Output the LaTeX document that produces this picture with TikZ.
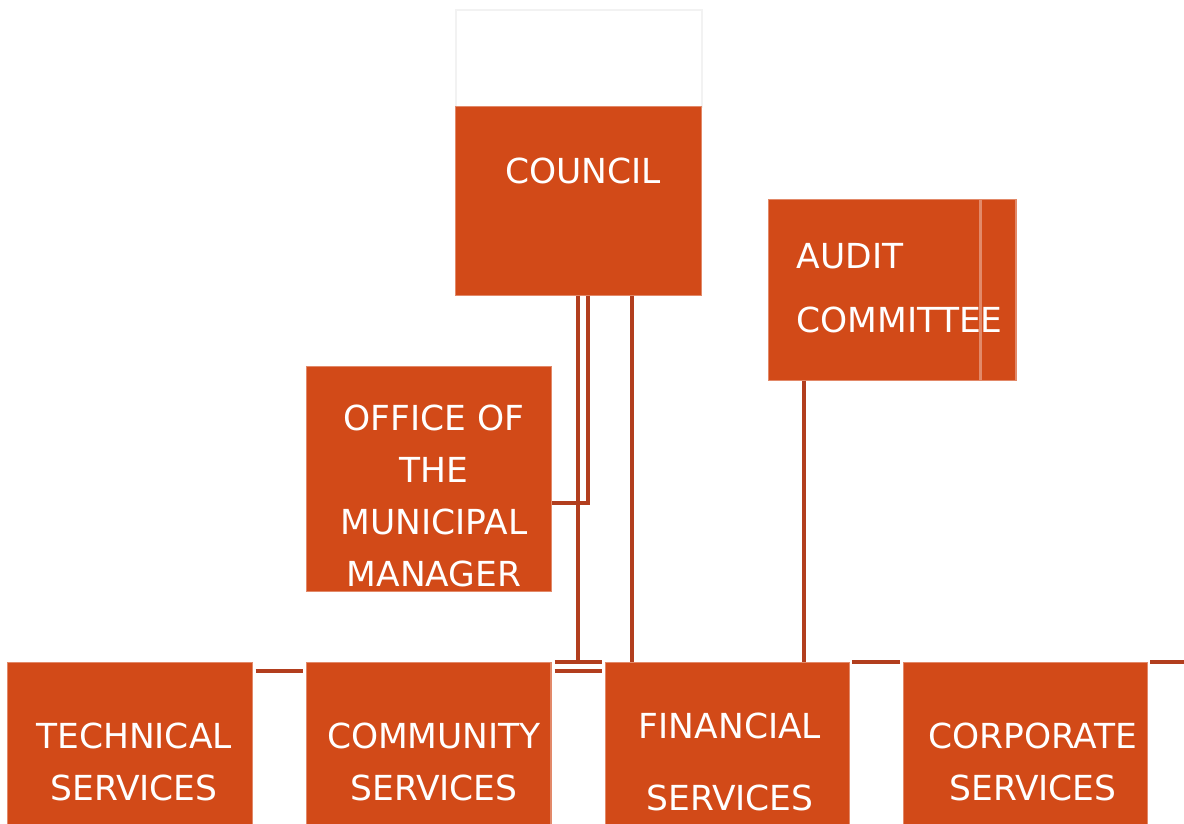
\documentclass[tikz,border=0pt]{standalone}
\usepackage{fontspec}
\setmainfont{DejaVu Sans}
\usetikzlibrary{positioning}
\definecolor{boxfill}{RGB}{210,74,24}
\definecolor{linkcol}{RGB}{178,62,30}
\tikzset{
  unit/.style={draw=boxfill!65!white, line width=0.3pt, fill=boxfill, inner sep=0pt,
    minimum width=2.44cm, minimum height=1.8cm},
  caption/.style={text=white, align=center, inner sep=0pt,
    font=\fontsize{9.8}{14.8}\selectfont},
  link/.style={draw=linkcol, line width=0.95pt}
}

\begin{document}
\begin{tikzpicture}[x=0.01cm, y=-0.01cm]
  \useasboundingbox (0,0) rectangle (1184,823);
  \clip (0,0) rectangle (1184,823);
  % top of the chart
  \node[draw=black!5, minimum width=2.46cm, minimum height=0.97cm] (blank) at (579,58.5) {};
  \node[unit, minimum width=2.45cm, minimum height=1.88cm] (council) at (578.5,201) {};
  \node[unit, minimum width=2.10cm] (audit) at (874,290) {};
  \node[unit, minimum width=0.35cm] (audit-side) at (998.5,290) {};
  \node[unit, minimum height=2.24cm] (omm) at (429,479) {};
  % departments
  \node[unit, anchor=north] (tech) at (130,662) {};
  \node[unit, right=0.537cm of tech] (comm) {};
  \node[unit, right=0.537cm of comm] (fin) {};
  \node[unit, right=0.527cm of fin] (corp) {};
  \coordinate (edge) at (1184,662);

  \node[caption] (council-t) at (583,171) {COUNCIL};
  \node[caption, align=left, anchor=west, font=\fontsize{9.8}{18.2}\selectfont] (audit-t) at (796,288) {AUDIT\\COMMITTEE};
  \node[caption] (omm-t) at (434,496) {OFFICE OF\\THE\\MUNICIPAL\\MANAGER};
  \node[caption] (tech-t) at (134,762) {TECHNICAL\\SERVICES};
  \node[caption] (comm-t) at (434,762) {COMMUNITY\\SERVICES};
  \node[caption, font=\fontsize{9.8}{20.5}\selectfont] (fin-t) at (730,762) {FINANCIAL\\SERVICES};
  \node[caption] (corp-t) at (1033,762) {CORPORATE\\SERVICES};

  % connectors
  \draw[link] (council.south -| 578,0) -- (comm.north -| 578,0);
  \draw[link] (council.south -| 588,0) |- (omm.east |- 0,503);
  \draw[link] (council.south -| 632,0) -- (fin.north -| 632,0);
  \draw[link] (audit.south -| 804,0) -- (fin.north -| 804,0);
  \draw[link] ([xshift=0.03cm]comm.north east) -- ([xshift=-0.03cm]fin.north west);
  \draw[link] ([shift={(0.03cm,-0.09cm)}]comm.north east) -- ([shift={(-0.03cm,-0.09cm)}]fin.north west);
  \draw[link] ([shift={(0.03cm,-0.09cm)}]tech.north east) -- ([shift={(-0.03cm,-0.09cm)}]comm.north west);
  \draw[link] ([xshift=0.02cm]fin.north east) -- ([xshift=-0.03cm]corp.north west);
  \draw[link] ([xshift=0.02cm]corp.north east) -- (edge);
\end{tikzpicture}
\end{document}
